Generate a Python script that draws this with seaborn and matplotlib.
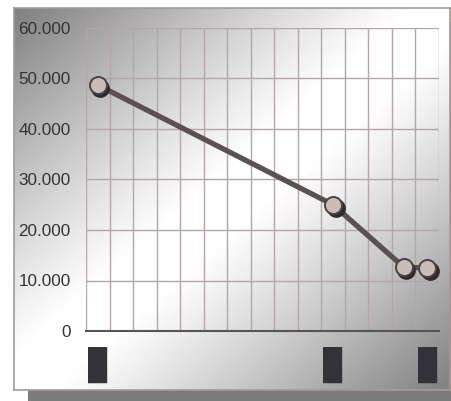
import numpy as np
import matplotlib
matplotlib.use("Agg")
import matplotlib.pyplot as plt
import matplotlib.transforms as mtransforms
from matplotlib.patches import Rectangle
from matplotlib.ticker import FuncFormatter
import seaborn as sns

# data
posicoes = [0, 10, 13, 14]
valores = [48700, 25000, 12650, 12450]
rotulos_pos = [0, 10, 14]
rotulos = ["\u2588", "\u2588", "\u2588"]
y_ticks = [0, 10000, 20000, 30000, 40000, 50000, 60000]

W, H = 452, 401
sns.set_theme(style="white")
plt.rcParams["font.family"] = ["Liberation Sans", "DejaVu Sans"]

fig = plt.figure(figsize=(W / 100, H / 100), dpi=100)
fig.patch.set_facecolor("white")

def fx(px):
    return px / W

def fy(py):
    return 1 - py / H

# sombra do painel
fig.patches.append(Rectangle((fx(28), 0), fx(424), fy(22), transform=fig.transFigure,
                             facecolor="#7b7b7b", edgecolor="none", zorder=0))

# painel com degradê
bg = fig.add_axes([fx(14), fy(390), fx(436), fy(8) - fy(390)], zorder=1)
gx, gy = np.meshgrid(np.linspace(0, 1, 400), np.linspace(0, 1, 360))
t = (gx + gy) / 2
d = np.clip((np.abs(t - 0.5) - 0.04) / 0.46, 0, 1)
v = 1 - 0.5 * d ** 1.1
bg.imshow(v, cmap="gray", vmin=0, vmax=1, aspect="auto", interpolation="bilinear")
bg.set_xticks([])
bg.set_yticks([])
for s in bg.spines.values():
    s.set_color("#a49a9a")
    s.set_linewidth(1.2)

ax = fig.add_axes([fx(86), fy(331), fx(353), fy(28) - fy(331)], zorder=2)
ax.set_facecolor("none")

sns.lineplot(x=posicoes, y=valores, ax=ax, color="#5a5250", linewidth=3.8,
             solid_capstyle="round", zorder=3)

sombra = mtransforms.offset_copy(ax.transData, fig=fig, x=2.5, y=-3, units="dots")
sns.scatterplot(x=posicoes, y=valores, ax=ax, s=150, color="#2e2a2b",
                edgecolor="#2e2a2b", linewidth=1.2, transform=sombra, zorder=4)
sns.scatterplot(x=posicoes, y=valores, ax=ax, s=150, color="#c9bdb9",
                edgecolor="#4a4343", linewidth=1.4, zorder=5)

ax.set_xlim(-0.5, 14.5)
ax.set_ylim(0, 60000)
ax.set_yticks(y_ticks)
ax.yaxis.set_major_formatter(FuncFormatter(lambda v, p: f"{int(v):,}".replace(",", ".")))
ax.set_xticks(rotulos_pos)
ax.set_xticklabels(rotulos)
ax.set_xticks(np.arange(-0.5, 15, 1), minor=True)
ax.tick_params(axis="y", length=0, pad=11, labelsize=12.3, labelcolor="#333333")
ax.tick_params(axis="x", which="major", length=0, pad=11, labelsize=23, labelcolor="#333238")
ax.tick_params(axis="x", which="minor", length=0)
ax.grid(False)
ax.grid(True, axis="y", which="major", color="#b5a6a6", linewidth=1)
ax.grid(True, axis="x", which="minor", color="#b5a6a6", linewidth=1)
for lbl in ax.get_xticklabels():
    lbl.set_family(["Liberation Mono", "DejaVu Sans"])
for s in ["left", "right", "top"]:
    ax.spines[s].set_visible(False)
ax.spines["bottom"].set_color("#5a5555")
ax.spines["bottom"].set_linewidth(1.5)
ax.set_xlabel("")
ax.set_ylabel("")

fig.savefig("out.png", dpi=100)
